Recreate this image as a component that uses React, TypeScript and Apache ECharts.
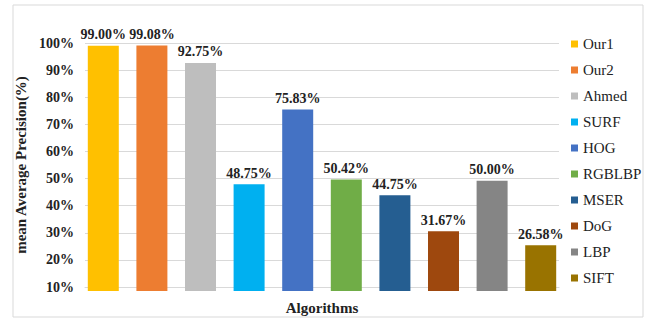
import React, { useEffect, useRef } from "react";
import * as echarts from "echarts";

const categories = ["Our1", "Our2", "Ahmed", "SURF", "HOG", "RGBLBP", "MSER", "DoG", "LBP", "SIFT"];
const values = [99.0, 99.08, 92.75, 48.75, 75.83, 50.42, 44.75, 31.67, 50.0, 26.58];
const colors = ["#FFC000", "#ED7D31", "#BEBEBE", "#00B0F0", "#4472C4", "#70AD47", "#255E91", "#9E480E", "#858585", "#997300"];
const yTicks = [10, 20, 30, 40, 50, 60, 70, 80, 90, 100];

const FONT = "Liberation Serif, Times New Roman, serif";

export default function App() {
  const ref = useRef<HTMLDivElement>(null);

  useEffect(() => {
    if (!ref.current) return;
    const chart = echarts.init(ref.current, null, { renderer: "svg" });

    const yMin = yTicks[0];
    const yMax = yTicks[yTicks.length - 1];

    // One stacked series per algorithm so each gets its own legend entry
    const series = categories.map((name, i) => ({
      name,
      type: "bar" as const,
      stack: "all",
      xAxisIndex: 1,
      yAxisIndex: 1,
      barWidth: 31,
      itemStyle: { color: colors[i] },
      label: {
        show: true,
        position: "top" as const,
        distance: 4,
        formatter: (p: any) => `${Number(p.value).toFixed(2)}%`,
        fontFamily: FONT,
        fontWeight: "bold" as const,
        fontSize: 14,
        color: "#222",
      },
      data: categories.map((_, j) => (j === i ? values[i] : null)),
    }));

    chart.setOption({
      animation: false,
      backgroundColor: "#fff",
      textStyle: { fontFamily: FONT },
      graphic: [
        {
          type: "rect",
          shape: { x: 13, y: 5, width: 630, height: 312 },
          style: { fill: "none", stroke: "#d9d9d9", lineWidth: 1 },
          silent: true,
        },
      ],
      legend: {
        orient: "vertical",
        left: 566,
        top: 31,
        itemWidth: 7,
        itemHeight: 7,
        itemGap: 10,
        icon: "rect",
        data: categories,
        textStyle: { fontFamily: FONT, fontSize: 15, color: "#222", lineHeight: 16 },
      },
      // grid 0: value scale and gridlines; grid 1: bars (slightly wider band)
      grid: [
        { left: 85, right: 94, top: 43, bottom: 29 },
        { left: 79, right: 88, top: 43, bottom: 29 },
      ],
      xAxis: [
        {
          type: "category",
          gridIndex: 0,
          data: categories,
          axisLabel: { show: false },
          axisTick: { show: false },
          axisLine: { lineStyle: { color: "#d9d9d9" } },
          name: "Algorithms",
          nameLocation: "middle",
          nameGap: 13,
          nameTextStyle: { fontFamily: FONT, fontWeight: "bold", fontSize: 15, color: "#222" },
        },
        {
          type: "category",
          gridIndex: 1,
          data: categories,
          show: false,
        },
      ],
      yAxis: [
        {
          type: "value",
          gridIndex: 0,
          min: yMin,
          max: yMax,
          interval: 10,
          axisLabel: {
            formatter: "{value}%",
            fontFamily: FONT,
            fontWeight: "bold",
            fontSize: 14,
            color: "#222",
            margin: 11,
          },
          splitLine: { lineStyle: { color: "#d9d9d9" } },
          axisLine: { show: false },
          axisTick: { show: false },
          name: "mean Average Precision(%)",
          nameLocation: "middle",
          nameRotate: 90,
          nameGap: 50,
          nameTextStyle: { fontFamily: FONT, fontWeight: "bold", fontSize: 15, color: "#222" },
        },
        {
          type: "value",
          gridIndex: 1,
          min: yMin,
          max: yMax,
          interval: 10,
          show: false,
          splitLine: { show: false },
        },
      ],
      series,
    });

    return () => chart.dispose();
  }, []);

  return <div ref={ref} style={{ position: "fixed", left: 0, top: 0, width: 653, height: 320 }} />;
}
